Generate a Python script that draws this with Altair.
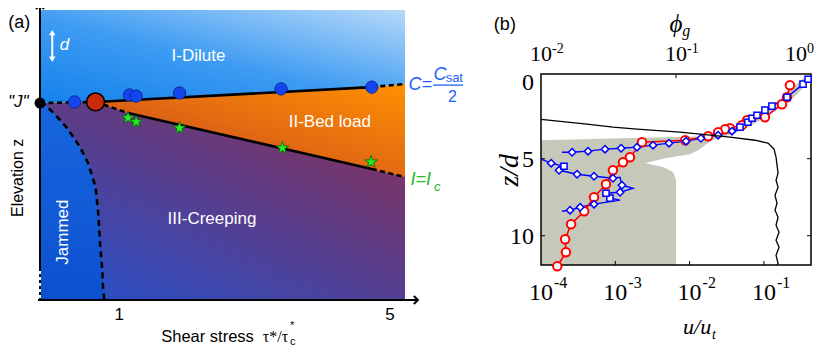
import altair as alt
import pandas as pd

# ================= Panel (a): regime diagram =================
a_tick_vals = [1, 5]
a_tick_text = ["1", "5"]

j_tau, j_z = [-0.17], [6.79]
bigred_tau, bigred_z = [0.65], [6.83]
blue_tau = [0.34, 1.15, 1.25, 1.89, 3.39, 4.73]
blue_z = [6.83, 7.07, 7.03, 7.14, 7.28, 7.34]
star_tau = [1.13, 1.25, 1.89, 3.41, 4.72]
star_z = [6.28, 6.14, 5.93, 5.24, 4.76]

upper_tau = [-0.17, 0.65, 4.73, 5.22]
upper_z = [6.79, 6.83, 7.34, 7.45]
upper_dashed = [True, False, True]
lower_tau = [0.65, 1.13, 4.73, 5.22]
lower_z = [6.83, 6.45, 4.52, 4.24]
lower_dashed = [True, False, True]
bed_upper_z = [6.83, 6.89, 7.34, 7.45]

jam_tau = [-0.17, -0.09, 0.06, 0.23, 0.42, 0.54, 0.65, 0.69, 0.72, 0.75, 0.76, 0.78]
jam_z = [6.79, 6.72, 6.38, 5.93, 5.28, 4.72, 3.90, 3.00, 1.83, 1.03, 0.45, 0.0]

TAU_MIN, TAU_MAX, Z_MAX = -0.17, 5.22, 10.0

# ================= Panel (b): profiles =================
top_ticks = [0.01, 0.1, 1.0]
top_exp = ["-2", "-1", "0"]
bot_ticks = [1e-4, 1e-3, 1e-2, 1e-1]
bot_exp = ["-4", "-3", "-2", "-1"]
zd_ticks = [0, 5, 10]

red_phi = [0.698, 0.664, 0.610, 0.456, 0.336, 0.308, 0.251, 0.231, 0.205, 0.173, 0.117,
           0.056, 0.0456, 0.0405, 0.0341, 0.0303, 0.0247, 0.0209, 0.0167, 0.0151, 0.0153, 0.0132]
red_zd = [0.23, 1.01, 1.46, 2.31, 2.50, 2.82, 3.02, 3.08, 3.28, 3.54, 3.80,
          3.93, 4.90, 5.23, 5.75, 6.66, 7.50, 8.41, 9.25, 10.23, 11.07, 11.98]

blueA_phi = [0.0143, 0.0164, 0.0195, 0.0247, 0.0385, 0.0324, 0.0303, 0.0385, 0.048, 0.0398,
             0.0385, 0.0341, 0.0247, 0.0185, 0.0136, 0.0148, 0.0119, 0.0100]
blueA_zd = [8.41, 8.34, 8.15, 7.95, 7.69, 7.56, 7.24, 7.18, 6.92, 6.72,
            6.20, 6.27, 6.14, 6.01, 5.75, 5.49, 5.29, 5.03]
blueA_mark = ["", "D", "D", "D", "", "S", "S", "D", "", "D", "", "D", "D", "D", "D", "S", "D", ""]
blueB_phi = [0.0143, 0.0170, 0.0223, 0.0298, 0.0392, 0.0514, 0.0676, 0.0887, 0.1186, 0.153,
             0.205, 0.260, 0.298, 0.341, 0.366, 0.398, 0.456, 0.514, 0.664, 0.873, 0.951]
blueB_zd = [4.58, 4.58, 4.51, 4.38, 4.32, 4.25, 4.12, 3.99, 3.86, 3.67,
            3.47, 3.21, 2.95, 2.63, 2.37, 2.18, 1.85, 1.59, 1.01, 0.16, -0.16]
blueB_mark = ["", "D", "D", "D", "D", "D", "D", "D", "D", "D", "D", "D",
              "S", "S", "S", "S", "S", "S", "S", "S", "S"]

gray_zd = [-0.30, 0.23, 1.01, 1.59, 2.18, 2.63, 3.15, 3.54, 3.80, 4.12, 4.45, 4.71,
           4.97, 5.29, 5.54, 5.86, 6.36, 11.9]
gray_left = [0.90, 0.76, 0.62, 0.497, 0.385, 0.315, 0.239, 0.167, 0.01, 0.01, 0.01, 0.01,
             0.01, 0.01, 0.01, 0.01, 0.01, 0.01]
gray_right = [1.0, 0.918, 0.748, 0.610, 0.480, 0.398, 0.308, 0.231, 0.185, 0.164, 0.146, 0.127,
              0.083, 0.0589, 0.0802, 0.095, 0.1, 0.1]

black_u = [1e-4, 4.16e-4, 9.3e-4, 1.96e-3, 7.43e-3, 0.035, 0.0759, 0.1135, 0.137, 0.1455,
           0.155, 0.1455, 0.155, 0.141, 0.150, 0.141, 0.155, 0.1455, 0.160, 0.1455, 0.160,
           0.1455, 0.155, 0.150]
black_zd = [2.44, 2.76, 2.95, 3.08, 3.28, 3.60, 3.80, 3.99, 4.38, 4.90,
            5.94, 6.40, 6.85, 7.37, 7.89, 8.34, 8.80, 9.32, 9.77, 10.29, 10.75,
            11.27, 11.79, 11.9]

PHI_MIN, PHI_MAX = 0.01, 1.0
U_MIN, U_MAX = 1e-4, 0.43
ZD_MIN, ZD_MAX = -0.5, 11.9

# ================= Scales =================
XA = alt.Scale(domain=[TAU_MIN, TAU_MAX], range=[32, 397], nice=False, zero=False)
YA = alt.Scale(domain=[0, Z_MAX], range=[292, 2], nice=False, zero=False)
XT = alt.Scale(type="log", domain=[PHI_MIN, PHI_MAX], range=[533, 803], nice=False)
XU = alt.Scale(type="log", domain=[U_MIN, U_MAX], range=[533, 803], nice=False)
YB = alt.Scale(domain=[ZD_MIN, ZD_MAX], range=[66, 257], nice=False, zero=False)

SANS = "Liberation Sans"
SERIF = "Liberation Serif"


def fx(f, s):
    return alt.X(f + ":Q", scale=s, axis=None)


def fy(f, s):
    return alt.Y(f + ":Q", scale=s, axis=None)


def dx_(v, s):
    return alt.XDatum(datum=v, scale=s, axis=None, type="quantitative")


def dy_(v, s):
    return alt.YDatum(datum=v, scale=s, axis=None, type="quantitative")


def label(text, x, y, xs, ys, **mk):
    return alt.Chart(pd.DataFrame({"t": [text]})).mark_text(**mk).encode(
        x=dx_(x, xs), y=dy_(y, ys), text="t:N")


def lgrad(stops, x1, y1, x2, y2):
    return alt.LinearGradient(
        gradient="linear",
        stops=[alt.GradientStop(offset=o, color=c) for o, c in stops],
        x1=x1, y1=y1, x2=x2, y2=y2)


def seg_df(xs, ys, dashed, name):
    rows = []
    for i, d in enumerate(dashed):
        for j in (i, i + 1):
            rows.append({"x": xs[j], "y": ys[j], "g": f"{name}{i}", "dash": d, "k": j})
    return pd.DataFrame(rows)


# ================= Panel (a) layers =================
a_layers = []
bound = pd.DataFrame({"tau": upper_tau, "z": upper_z})
# creeping (below upper boundary)
a_layers.append(alt.Chart(bound).mark_area(
    orient="vertical",
    color=lgrad([(0, "#2850c8"), (0.5, "#5a3d8a"), (1, "#8f2f52")], 0.1, 1, 0.9, 0)
).encode(x=fx("tau", XA), y=fy("z", YA), y2=alt.datum(0)))
# dilute (above upper boundary)
a_layers.append(alt.Chart(bound).mark_area(
    orient="vertical",
    color=lgrad([(0, "#1683ec"), (0.45, "#3d9bf2"), (1, "#b6d9f9")], 0.05, 1, 1, 0)
).encode(x=fx("tau", XA), y=fy("z", YA), y2=alt.datum(Z_MAX)))
# bed load
bed = pd.DataFrame({"tau": lower_tau, "lo": lower_z, "hi": bed_upper_z})
a_layers.append(alt.Chart(bed).mark_area(
    orient="vertical",
    color=lgrad([(0, "#b83a2c"), (0.5, "#e26a12"), (1, "#ff9002")], 0, 1, 1, 0)
).encode(x=fx("tau", XA), y=fy("lo", YA), y2="hi:Q"))
# jammed
jam = pd.DataFrame({"tau": jam_tau, "z": jam_z})
a_layers.append(alt.Chart(jam).mark_area(
    orient="horizontal",
    color=lgrad([(0, "#1767de"), (1, "#0d50cf")], 0, 0, 0, 1)
).encode(y=fy("z", YA), x=fx("tau", XA), x2=alt.datum(TAU_MIN)))
# boundary lines
for xs, ys, dsh, nm in [(upper_tau, upper_z, upper_dashed, "u"), (lower_tau, lower_z, lower_dashed, "l")]:
    sd = seg_df(xs, ys, dsh, nm)
    a_layers.append(alt.Chart(sd[~sd["dash"]]).mark_line(color="black", strokeWidth=2.6).encode(
        x=fx("x", XA), y=fy("y", YA), detail="g:N", order="k:Q"))
    a_layers.append(alt.Chart(sd[sd["dash"]]).mark_line(
        color="black", strokeWidth=2.6, strokeDash=[5, 3.5]).encode(
        x=fx("x", XA), y=fy("y", YA), detail="g:N", order="k:Q"))
a_layers.append(alt.Chart(jam.assign(k=range(len(jam)))).mark_line(
    color="black", strokeWidth=2.6, strokeDash=[6, 4.5]).encode(
    x=fx("tau", XA), y=fy("z", YA), order="k:Q"))
# axes with arrows
a_layers.append(alt.Chart(pd.DataFrame({"z": [0.0], "z2": [10.17]})).mark_rule(
    color="black", strokeWidth=2).encode(x=dx_(TAU_MIN, XA), y=fy("z", YA), y2="z2:Q"))
a_layers.append(alt.Chart(pd.DataFrame({"t": [TAU_MIN - 0.03], "t2": [5.41]})).mark_rule(
    color="black", strokeWidth=2).encode(y=dy_(0, YA), x=fx("t", XA), x2="t2:Q"))
a_layers.append(alt.Chart(pd.DataFrame({"z": [0.07], "z2": [1.1]})).mark_rule(
    color="white", strokeWidth=2, strokeDash=[3, 3]).encode(x=dx_(TAU_MIN, XA), y=fy("z", YA), y2="z2:Q"))
a_layers.append(alt.Chart(pd.DataFrame({"t": [TAU_MIN], "z": [10.17]})).mark_point(
    shape="M-1,1L0,0L1,1", filled=False, color="black", strokeWidth=2, size=64, opacity=1).encode(
    x=fx("t", XA), y=fy("z", YA)))
a_layers.append(alt.Chart(pd.DataFrame({"t": [5.41], "z": [0.0]})).mark_point(
    shape="M-1,-1L0,0L-1,1", filled=False, color="black", strokeWidth=2, size=64, opacity=1).encode(
    x=fx("t", XA), y=fy("z", YA)))
# d arrow (white)
a_layers.append(alt.Chart(pd.DataFrame({"z": [8.31], "z2": [9.2]})).mark_rule(
    color="white", strokeWidth=2).encode(x=dx_(0.011, XA), y=fy("z", YA), y2="z2:Q"))
a_layers.append(alt.Chart(pd.DataFrame({"t": [0.011], "z": [9.22]})).mark_point(
    shape="triangle-up", filled=True, color="white", size=40, opacity=1).encode(x=fx("t", XA), y=fy("z", YA)))
a_layers.append(alt.Chart(pd.DataFrame({"t": [0.011], "z": [8.3]})).mark_point(
    shape="triangle-down", filled=True, color="white", size=40, opacity=1).encode(x=fx("t", XA), y=fy("z", YA)))
# markers
a_layers.append(alt.Chart(pd.DataFrame({"t": blue_tau, "z": blue_z})).mark_point(
    shape="circle", filled=True, fill="#1446f0", stroke="#0a2a9a", strokeWidth=1, size=150, opacity=1).encode(
    x=fx("t", XA), y=fy("z", YA)))
a_layers.append(alt.Chart(pd.DataFrame({"t": bigred_tau, "z": bigred_z})).mark_point(
    shape="circle", filled=True, fill="#c92a08", stroke="black", strokeWidth=1.5, size=320, opacity=1).encode(
    x=fx("t", XA), y=fy("z", YA)))
a_layers.append(alt.Chart(pd.DataFrame({"t": j_tau, "z": j_z})).mark_point(
    shape="circle", filled=True, color="black", size=120, opacity=1).encode(x=fx("t", XA), y=fy("z", YA)))
a_layers.append(alt.Chart(pd.DataFrame({"t": star_tau, "z": star_z})).mark_point(
    shape="M0,-1L0.24,-0.33L0.95,-0.31L0.38,0.12L0.59,0.81L0,0.4L-0.59,0.81L-0.38,0.12L-0.95,-0.31L-0.24,-0.33Z",
    filled=True, fill="#22ee22", stroke="#0d5a0d", strokeWidth=0.8, size=170, opacity=1).encode(
    x=fx("t", XA), y=fy("z", YA)))
# tick labels
a_layers.append(alt.Chart(pd.DataFrame({"v": a_tick_vals, "t": a_tick_text})).mark_text(
    font=SANS, fontSize=17, color="black", baseline="middle", dy=15).encode(
    x=fx("v", XA), y=dy_(0, YA), text="t:N"))
# region and axis labels
W = dict(font=SANS, fontSize=17, color="white", baseline="middle")
a_layers += [
    label("I-Dilute", 2.17, 8.41, XA, YA, **W),
    label("II-Bed load", 4.11, 6.14, XA, YA, **W),
    label("III-Creeping", 2.37, 2.79, XA, YA, **W),
    label("Jammed", 0.17, 2.34, XA, YA, angle=270, **W),
    label("d", 0.19, 8.79, XA, YA, font=SANS, fontSize=17, color="white", baseline="middle", fontStyle="italic"),
    label("(a)", -0.64, 9.55, XA, YA, font=SANS, fontSize=18, color="black", align="left", baseline="middle"),
    label("\"J\"", -0.49, 6.83, XA, YA, font=SANS, fontSize=17, color="black", baseline="middle", fontStyle="italic"),
    label("Elevation z", -0.50, 4.21, XA, YA, font=SANS, fontSize=16, color="black", baseline="middle", angle=270),
    label("Shear stress", 1.62, -1.45, XA, YA, font=SANS, fontSize=16.5, color="black", align="left", baseline="alphabetic"),
    label("\u03c4*/\u03c4", 3.12, -1.45, XA, YA, font=SERIF, fontSize=16, color="black", align="left", baseline="alphabetic"),
    label("c", 3.52, -1.55, XA, YA, font=SANS, fontSize=11, color="black", align="left", baseline="alphabetic"),
    label("*", 3.52, -1.0, XA, YA, font=SANS, fontSize=11, color="black", align="left", baseline="alphabetic"),
    label("C=", 5.27, 7.41, XA, YA, font=SANS, fontSize=18, color="#1f5ff5", align="left", baseline="middle", fontStyle="italic"),
    label("C", 5.64, 7.76, XA, YA, font=SANS, fontSize=18, color="#1f5ff5", align="left", baseline="middle", fontStyle="italic"),
    label("sat", 5.82, 7.64, XA, YA, font=SANS, fontSize=13, color="#1f5ff5", align="left", baseline="middle"),
    label("2", 5.92, 7.0, XA, YA, font=SANS, fontSize=16, color="#1f5ff5", baseline="middle"),
    label("I=I", 5.30, 4.14, XA, YA, font=SANS, fontSize=18, color="#22bb22", align="left", baseline="middle", fontStyle="italic"),
    label("c", 5.65, 3.90, XA, YA, font=SANS, fontSize=13, color="#22bb22", align="left", baseline="middle", fontStyle="italic"),
]
a_layers.append(alt.Chart(pd.DataFrame({"t": [5.635], "t2": [6.077]})).mark_rule(
    color="#1f5ff5", strokeWidth=1.3).encode(y=dy_(7.41, YA), x=fx("t", XA), x2="t2:Q"))

panelA = alt.layer(*a_layers)

# ================= Panel (b) layers (phi_g scale on top) =================
bt = []
gray = pd.DataFrame({"zd": gray_zd, "l": gray_left, "r": gray_right})
bt.append(alt.Chart(gray).mark_area(orient="horizontal", color="#c6c8b9").encode(
    y=fy("zd", YB), x=fx("l", XT), x2="r:Q"))
bt.append(alt.Chart(pd.DataFrame({"a": [PHI_MIN], "b": [PHI_MAX]})).mark_rect(
    filled=False, stroke="black", strokeWidth=1.5, fillOpacity=0).encode(
    x=fx("a", XT), x2="b:Q", y=dy_(ZD_MIN, YB), y2=alt.datum(ZD_MAX)))
# inner ticks
bt.append(alt.Chart(pd.DataFrame({"v": [0.1]})).mark_rule(color="black", strokeWidth=1, y2Offset=4).encode(
    x=fx("v", XT), y=dy_(ZD_MIN, YB), y2=alt.datum(ZD_MIN)))
bt.append(alt.Chart(pd.DataFrame({"v": zd_ticks[1:]})).mark_rule(color="black", strokeWidth=1, x2Offset=4).encode(
    y=fy("v", YB), x=dx_(PHI_MIN, XT), x2=alt.datum(PHI_MIN)))
bt.append(alt.Chart(pd.DataFrame({"v": zd_ticks[1:]})).mark_rule(color="black", strokeWidth=1, x2Offset=-4).encode(
    y=fy("v", YB), x=dx_(PHI_MAX, XT), x2=alt.datum(PHI_MAX)))
# profiles
blue_rows = []
for seg, (ps, zs, ms) in enumerate([(blueA_phi, blueA_zd, blueA_mark), (blueB_phi, blueB_zd, blueB_mark)]):
    for k, (p, z, m) in enumerate(zip(ps, zs, ms)):
        blue_rows.append({"phi": p, "zd": z, "m": m, "seg": seg, "k": k})
blue = pd.DataFrame(blue_rows)
red = pd.DataFrame({"phi": red_phi, "zd": red_zd, "k": range(len(red_phi))})
bt.append(alt.Chart(blue).mark_line(color="#0000ff", strokeWidth=1.4).encode(
    x=fx("phi", XT), y=fy("zd", YB), detail="seg:N", order="k:Q"))
bt.append(alt.Chart(red).mark_line(color="#ff0000", strokeWidth=1.6).encode(
    x=fx("phi", XT), y=fy("zd", YB), order="k:Q"))
bt.append(alt.Chart(red).mark_point(shape="circle", filled=True, fill="white", stroke="#ff0000",
                                    strokeWidth=2, size=72, opacity=1).encode(x=fx("phi", XT), y=fy("zd", YB)))
bt.append(alt.Chart(blue[blue["m"] == "D"]).mark_point(shape="diamond", filled=True, fill="white", stroke="#0000ff",
                                                       strokeWidth=1.5, size=55, opacity=1).encode(x=fx("phi", XT), y=fy("zd", YB)))
bt.append(alt.Chart(blue[blue["m"] == "S"]).mark_point(shape="square", filled=True, fill="white", stroke="#0000ff",
                                                       strokeWidth=1.5, size=38, opacity=1).encode(x=fx("phi", XT), y=fy("zd", YB)))
# top tick labels
top_df = pd.DataFrame({"v": top_ticks, "b": ["10"] * 3, "e": top_exp})
for sub, shift in [(top_df.iloc[:2], 0), (top_df.iloc[2:], -15)]:
    bt.append(alt.Chart(sub).mark_text(font=SERIF, fontSize=22, baseline="alphabetic", dy=-13, dx=shift).encode(
        x=fx("v", XT), y=dy_(ZD_MIN, YB), text="b:N"))
    bt.append(alt.Chart(sub).mark_text(font=SERIF, fontSize=14, align="left", baseline="alphabetic",
                                       dy=-21, dx=11 + shift).encode(x=fx("v", XT), y=dy_(ZD_MIN, YB), text="e:N"))
# y tick labels
bt.append(alt.Chart(pd.DataFrame({"v": zd_ticks, "t": [str(v) for v in zd_ticks]})).mark_text(
    font=SERIF, fontSize=24, align="right", baseline="middle", dx=-7, dy=1).encode(
    y=fy("v", YB), x=dx_(PHI_MIN, XT), text="t:N"))
bt += [
    label("(b)", 0.0054, -3.67, XT, YB, font=SANS, fontSize=18, color="black", baseline="middle"),
    label("\u03d5", 0.1, -3.75, XT, YB, font=SERIF, fontSize=25, color="black", baseline="middle", fontStyle="italic"),
    label("g", 0.119, -3.3, XT, YB, font=SERIF, fontSize=16, color="black", baseline="middle", fontStyle="italic"),
    label("z/d", 0.0059, 5.75, XT, YB, font=SERIF, fontSize=28, color="black", baseline="middle", fontStyle="italic", angle=270),
]
panelBtop = alt.layer(*bt)

# ================= Panel (b) layers (u/u_t scale at bottom) =================
bb = []
blk = pd.DataFrame({"u": black_u, "zd": black_zd, "k": range(len(black_u))})
bb.append(alt.Chart(blk).mark_line(color="black", strokeWidth=1.3).encode(
    x=fx("u", XU), y=fy("zd", YB), order="k:Q"))
bb.append(alt.Chart(pd.DataFrame({"v": bot_ticks[1:]})).mark_rule(color="black", strokeWidth=1, y2Offset=-4).encode(
    x=fx("v", XU), y=dy_(ZD_MAX, YB), y2=alt.datum(ZD_MAX)))
bot_df = pd.DataFrame({"v": bot_ticks, "b": ["10"] * 4, "e": bot_exp})
bb.append(alt.Chart(bot_df).mark_text(font=SERIF, fontSize=24, baseline="alphabetic", dy=35).encode(
    x=fx("v", XU), y=dy_(ZD_MAX, YB), text="b:N"))
bb.append(alt.Chart(bot_df).mark_text(font=SERIF, fontSize=16, align="left", baseline="alphabetic", dy=23, dx=13).encode(
    x=fx("v", XU), y=dy_(ZD_MAX, YB), text="e:N"))
bb += [
    label("u/u", 0.0126, 15.95, XU, YB, font=SERIF, fontSize=22, color="black", baseline="middle", fontStyle="italic"),
    label("t", 0.0213, 16.45, XU, YB, font=SERIF, fontSize=14, color="black", baseline="middle", fontStyle="italic"),
]
panelBbot = alt.layer(*bb)

chart = alt.layer(panelA, panelBtop, panelBbot).resolve_scale(
    x="independent", y="independent"
).properties(
    width=814, height=338, padding=0,
    autosize=alt.AutoSizeParams(type="none"),
    background="white",
).configure_view(strokeWidth=0)

chart.save("out.html", embed_options={"renderer": "svg", "actions": False})
